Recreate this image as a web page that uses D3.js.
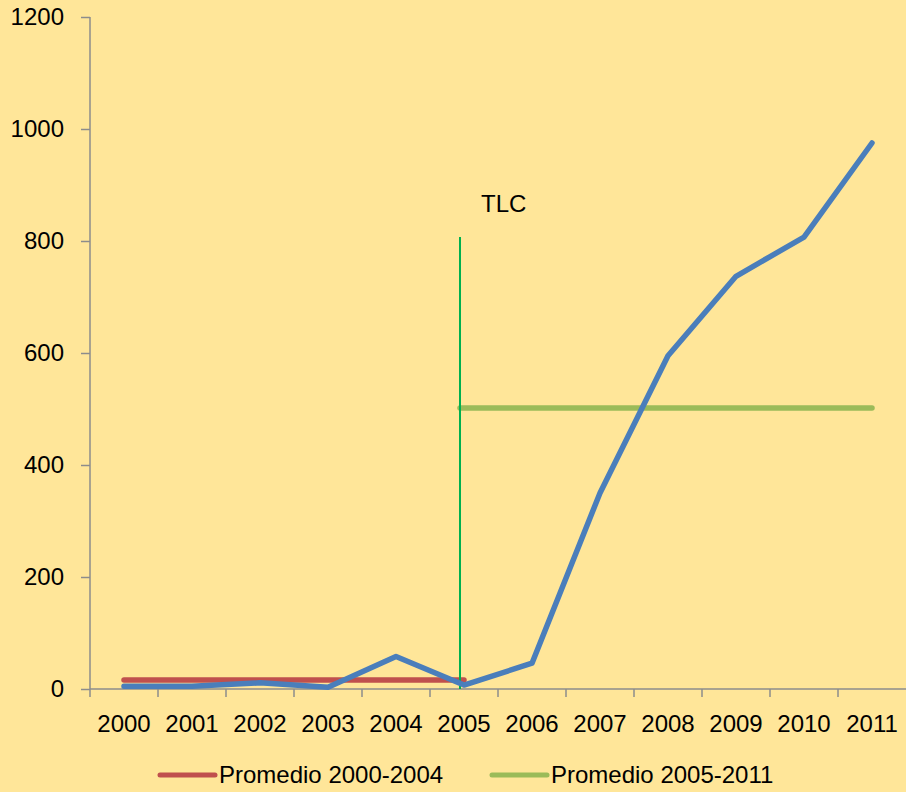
<!DOCTYPE html>
<html>
<head>
<meta charset="utf-8">
<script src="https://cdn.jsdelivr.net/npm/d3@7"></script>
<style>
  body { margin: 0; background: #FFE699; }
  svg { display: block; }
</style>
</head>
<body>
<svg width="906" height="792"></svg>
<script>
const years = ['2000','2001','2002','2003','2004','2005','2006','2007','2008','2009','2010','2011'];
const values = [5, 5, 11, 3, 58, 7, 46, 350, 595, 737, 807, 975];
const avgFirst = 16;
const avgSecond = 502;
const firstPeriod = ['2000','2005'];
const secondPeriod = ['2005','2011'];
const tlcYear = '2005';
const tlcTop = 807;
const yTicks = [0, 200, 400, 600, 800, 1000, 1200];
const legendLabels = ['Promedio 2000-2004', 'Promedio 2005-2011'];

const fontFamily = '"Liberation Sans", Arial, sans-serif';
const svg = d3.select('svg').attr('font-family', fontFamily);
const width = +svg.attr('width');
const height = +svg.attr('height');
const margin = { top: 17, right: 0, bottom: 103, left: 90 };
const innerWidth = width - margin.left - margin.right;
const innerHeight = height - margin.top - margin.bottom;

svg.append('rect').attr('width', width).attr('height', height).attr('fill', '#FFE699');

const g = svg.append('g').attr('transform', `translate(${margin.left},${margin.top})`);

const xScale = d3.scaleBand().domain(years).range([0, innerWidth]);
const xCenter = d => xScale(d) + xScale.bandwidth() / 2;
const yScale = d3.scaleLinear().domain([0, 1200]).range([innerHeight, 0]);

const axisColor = '#8c8c8c';

// y axis
const yAxisG = g.append('g')
  .call(d3.axisLeft(yScale).tickValues(yTicks).tickFormat(d3.format('d')).tickSize(9).tickPadding(17))
  .attr('font-family', fontFamily)
  .attr('font-size', 24);
yAxisG.select('.domain').remove();
yAxisG.selectAll('line').attr('stroke', axisColor).attr('stroke-width', 1.5);
yAxisG.selectAll('text').attr('fill', '#000');
yAxisG.append('line')
  .attr('y1', 0).attr('y2', innerHeight + 8)
  .attr('stroke', axisColor).attr('stroke-width', 1.5);

// x axis
const xAxisG = g.append('g')
  .attr('transform', `translate(0,${innerHeight})`)
  .attr('font-size', 24);
xAxisG.append('line')
  .attr('x1', 0).attr('x2', innerWidth)
  .attr('stroke', axisColor).attr('stroke-width', 1.5);
xAxisG.selectAll('.tick-mark').data(years.slice(1))
  .enter().append('line')
    .attr('class', 'tick-mark')
    .attr('x1', d => xScale(d)).attr('x2', d => xScale(d))
    .attr('y1', 0).attr('y2', 8)
    .attr('stroke', axisColor).attr('stroke-width', 1.5);
xAxisG.selectAll('.label').data(years)
  .enter().append('text')
    .attr('class', 'label')
    .attr('x', xCenter)
    .attr('y', 35)
    .attr('dy', '0.32em')
    .attr('text-anchor', 'middle')
    .attr('fill', '#000')
    .text(d => d);

// averages
g.append('line')
  .attr('x1', xCenter(firstPeriod[0])).attr('x2', xCenter(firstPeriod[1]))
  .attr('y1', yScale(avgFirst)).attr('y2', yScale(avgFirst))
  .attr('stroke', '#C0504D').attr('stroke-width', 5.5).attr('stroke-linecap', 'round');
g.append('line')
  .attr('x1', xCenter(secondPeriod[0]) - 4).attr('x2', xCenter(secondPeriod[1]))
  .attr('y1', yScale(avgSecond)).attr('y2', yScale(avgSecond))
  .attr('stroke', '#9BBB59').attr('stroke-width', 5.5).attr('stroke-linecap', 'round');

// TLC marker
g.append('line')
  .attr('x1', xCenter(tlcYear) - 4).attr('x2', xCenter(tlcYear) - 4)
  .attr('y1', yScale(0)).attr('y2', yScale(tlcTop))
  .attr('stroke', '#00B050').attr('stroke-width', 2);
g.append('text')
  .attr('x', xCenter(tlcYear) + 17)
  .attr('y', yScale(tlcTop) - 33)
  .attr('dy', '0.32em')
  .attr('font-size', 24)
  .attr('fill', '#000')
  .text('TLC');

// main series
const line = d3.line()
  .x((d, i) => xCenter(years[i]))
  .y(d => yScale(d));
g.append('path')
  .datum(values)
  .attr('d', line)
  .attr('fill', 'none')
  .attr('stroke', '#4A7EBB')
  .attr('stroke-width', 5.5)
  .attr('stroke-linejoin', 'round')
  .attr('stroke-linecap', 'round');

// legend
const legendColors = ['#C0504D', '#9BBB59'];
const legend = svg.append('g').attr('transform', 'translate(160,775)');
const items = legend.selectAll('g').data(legendLabels)
  .enter().append('g')
    .attr('transform', (d, i) => `translate(${i * 332},0)`);
items.append('line')
  .attr('x1', 0).attr('x2', 55)
  .attr('stroke', (d, i) => legendColors[i])
  .attr('stroke-width', 5)
  .attr('stroke-linecap', 'round');
items.append('text')
  .attr('x', 59)
  .attr('y', 0)
  .attr('dy', '0.32em')
  .attr('font-size', 24)
  .attr('fill', '#000')
  .text(d => d);
</script>
</body>
</html>
